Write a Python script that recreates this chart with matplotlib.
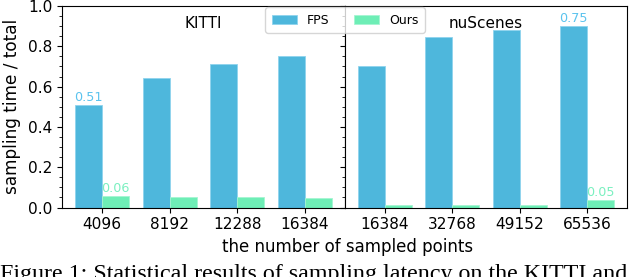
import matplotlib
matplotlib.use("Agg")
import matplotlib.pyplot as plt
from matplotlib.ticker import AutoMinorLocator
import numpy as np

kitti_points = ["4096", "8192", "12288", "16384"]
kitti_fps = [0.509, 0.643, 0.711, 0.753]
kitti_ours = [0.057, 0.052, 0.051, 0.046]

nus_points = ["16384", "32768", "49152", "65536"]
nus_fps = [0.702, 0.846, 0.881, 0.902]
nus_ours = [0.011, 0.011, 0.010, 0.036]

kitti_fps_label = "0.51"
kitti_ours_label = "0.06"
nus_fps_label = "0.75"
nus_ours_label = "0.05"

fps_color = "#4EB7DC"
ours_color = "#6EEEB6"
fps_text = "#5BC3EE"
ours_text = "#7AF0C0"

fig = plt.figure(figsize=(6.4, 2.77), dpi=100)
left, mid, right = 62/640, 345/640, 627/640
bottom, top = 1-207.5/277, 1-6/277
ax1 = fig.add_axes([left, bottom, mid-left, top-bottom])
ax2 = fig.add_axes([mid, bottom, right-mid, top-bottom], sharey=ax1)

w = 0.4
def draw(ax, cats, fps, ours, title, fps_lab_idx, fps_lab, ours_lab_idx, ours_lab):
    x = np.arange(len(cats))
    b1 = ax.bar(x - w/2, fps, w, color=fps_color, edgecolor="#8FD3EE", linewidth=0.6, label="FPS")
    b2 = ax.bar(x + w/2, ours, w, color=ours_color, edgecolor="#A5F5D2", linewidth=0.6, label="Ours")
    ax.set_xticks(x)
    ax.set_xticklabels(cats)
    ax.text(0.5, 0.915, title, transform=ax.transAxes, ha="center", va="center", fontsize=11)
    ax.text(x[fps_lab_idx] - w/2, fps[fps_lab_idx] + 0.005, fps_lab, ha="center", va="bottom",
            color=fps_text, fontsize=9.2)
    ax.text(x[ours_lab_idx] + w/2, ours[ours_lab_idx] + 0.005, ours_lab, ha="center", va="bottom",
            color=ours_text, fontsize=9.2)
    ax.yaxis.set_minor_locator(AutoMinorLocator())
    ax.tick_params(axis="both", labelsize=11.1)
    return b1, b2

h1, h2 = draw(ax1, kitti_points, kitti_fps, kitti_ours, "KITTI", 0, kitti_fps_label, 0, kitti_ours_label)
draw(ax2, nus_points, nus_fps, nus_ours, "nuScenes", 3, nus_fps_label, 3, nus_ours_label)

ax1.set_ylim(0, 1.0)
ax1.set_yticks([0.0, 0.2, 0.4, 0.6, 0.8, 1.0])
plt.setp(ax2.get_yticklabels(), visible=False)
ax1.set_ylabel("sampling time / total", fontsize=12.2, labelpad=5)

fig.text(348/640, 1-247/277, "the number of sampled points", ha="center", va="center", fontsize=12)

fig.legend([h1, h2], ["FPS", "Ours"], loc="upper center", bbox_to_anchor=(mid, 1-1/277),
           ncol=2, fontsize=9, handlelength=2.0, columnspacing=2.0, borderpad=0.5)

fig.text(0.0, 1-280/277, "Figure 1: Statistical results of sampling latency on the KITTI and",
         ha="left", va="baseline", fontsize=17.3, family="Liberation Serif")

fig.savefig("out.png", dpi=100)
